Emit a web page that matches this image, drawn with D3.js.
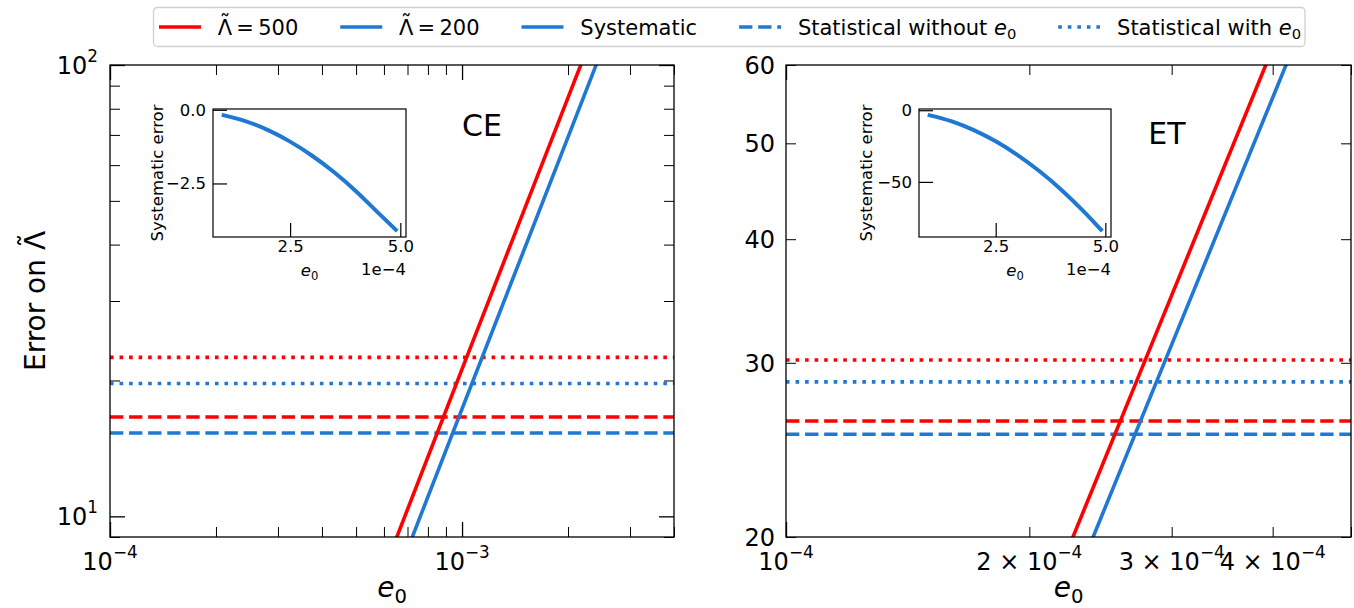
<!DOCTYPE html>
<html lang="en">
<head>
<meta charset="utf-8">
<title>Error on Lambda vs e0</title>
<script src="https://cdn.jsdelivr.net/npm/d3@7"></script>
<style>
  body { margin: 0; background: #fff; }
  svg text { font-family: "DejaVu Sans", sans-serif; fill: #000; }
</style>
</head>
<body>
<svg id="fig" width="1354" height="608"></svg>
<script>
  // values
  const lambdaValues = ["500", "200"];
  const lineColors = ["#ff0000", "#1f78d1"];

  // CE panel
  const ceSysE0 = [6e-4, 1e-3, 2e-3, 3e-3];
  const ceSys500 = [7.6, 21.2, 84.7, 190];
  const ceSys200 = [6.2, 17.3, 69.2, 156];
  const ceStatWithout = [16.6, 15.3];
  const ceStatWith = [22.5, 19.7];
  const ceXTicks = [1e-4, 1e-3];
  const ceXLabels = ["10^−4", "10^−3"];
  const ceXMinor = [2e-4, 3e-4, 4e-4, 5e-4, 6e-4, 7e-4, 8e-4, 9e-4, 2e-3, 3e-3, 4e-3];
  const ceYTicks = [10, 100];
  const ceYLabels = ["10^1", "10^2"];
  const ceYMinor = [9, 20, 30, 40, 50, 60, 70, 80, 90];

  // ET panel
  const etSysE0 = [2e-4, 3e-4, 4e-4, 5e-4];
  const etSys500 = [15.6, 35.1, 62.4, 97.5];
  const etSys200 = [13.9, 31.3, 55.6, 86.9];
  const etStatWithout = [26.2, 25.4];
  const etStatWith = [30.2, 28.7];
  const etXTicks = [1e-4];
  const etXLabels = ["10^−4"];
  const etXMinor = [2e-4, 3e-4, 4e-4, 5e-4];
  const etXMinorLabels = ["2 × 10^−4", "3 × 10^−4", "4 × 10^−4"];
  const etYMinor = [20, 30, 40, 50, 60];
  const etYLabels = ["20", "30", "40", "50", "60"];

  // insets: systematic error (Λ = 200) vs e0 in units of 1e-4
  const insetE0 = [0.95, 1.5, 2.0, 2.5, 3.0, 3.5, 4.0, 4.5, 4.93];
  const ceInsetSys = [-0.17, -0.39, -0.69, -1.08, -1.56, -2.12, -2.77, -3.50, -4.12];
  const etInsetSys = [-3.2, -7.8, -13.9, -21.7, -31.3, -42.6, -55.6, -70.4, -84.4];
  const insetXTicks = [2.5, 5.0];
  const ceInsetYTicks = [0, -2.5];
  const etInsetYTicks = [0, -50];

  const legendLabels = ["\u2009=\u2009" + lambdaValues[0], "\u2009=\u2009" + lambdaValues[1], "Systematic", "Statistical without ", "Statistical with "];

  const svg = d3.select("#fig");
  const LW = 3.6;
  const DASH = (3.7 * LW) + "," + (1.6 * LW);
  const DOT = LW + "," + (1.65 * LW);

  function supText(g, str, x, y, anchor, size) {
    const parts = str.split("^");
    const t = g.append("text")
      .attr("x", x).attr("y", y)
      .attr("text-anchor", anchor)
      .style("font-size", size + "px")
      .text(parts[0]);
    if (parts[1]) {
      t.append("tspan")
        .attr("dy", -0.5 * size)
        .style("font-size", (size * 0.7) + "px")
        .text(parts[1]);
    }
    return t;
  }

  // italic e with subscript 0
  function eZero(t, size) {
    t.append("tspan").style("font-style", "italic").text("e");
    t.append("tspan").attr("dy", 0.22 * size).style("font-size", (size * 0.7) + "px").text("0");
  }

  // Lambda with a tilde centred above it, then optional rest of the text
  function lambdaTilde(t, rest) {
    t.append("tspan").text("Λ");
    t.append("tspan").attr("dx", "-0.592em").attr("dy", "-0.2em").text("˜");
    if (rest) t.append("tspan").attr("dx", "0.092em").attr("dy", "0.2em").text(rest);
  }

  const panels = [
    { id: "ce", x0: 110, x1: 674, y0: 65, y1: 537, xDom: [1e-4, 4e-3], yDom: [9, 100],
      sysE0: ceSysE0, sys: [ceSys500, ceSys200], statWithout: ceStatWithout, statWith: ceStatWith,
      xTicks: ceXTicks, xLabels: ceXLabels, xMinor: ceXMinor, xMinorLabels: [],
      yTicks: ceYTicks, yLabels: ceYLabels, yMinor: ceYMinor, yMinorLabels: [],
      name: "CE", nameX: 482, nameY: 136,
      inset: { x0: 213, x1: 406, y0: 109, y1: 237, vals: ceInsetSys, yTicks: ceInsetYTicks, fmt: d3.format(".1f"), ylabX: 157 } },
    { id: "et", x0: 786, x1: 1351, y0: 65, y1: 537, xDom: [1e-4, 5e-4], yDom: [20, 60],
      sysE0: etSysE0, sys: [etSys500, etSys200], statWithout: etStatWithout, statWith: etStatWith,
      xTicks: etXTicks, xLabels: etXLabels, xMinor: etXMinor, xMinorLabels: etXMinorLabels,
      yTicks: [], yLabels: [], yMinor: etYMinor, yMinorLabels: etYLabels,
      name: "ET", nameX: 1167, nameY: 144,
      inset: { x0: 919, x1: 1111, y0: 109, y1: 237, vals: etInsetSys, yTicks: etInsetYTicks, fmt: d3.format("d"), ylabX: 866 } }
  ];

  function tickAxis(g, axis, vals, size, cls) {
    g.call(axis.tickValues(vals).tickSizeInner(-size).tickSizeOuter(0).tickFormat(""));
    g.select(".domain").remove();
    g.selectAll(".tick line").attr("stroke", "#000").attr("stroke-width", cls === "major" ? 1.3 : 1.0);
  }

  panels.forEach(function (p) {
    const x = d3.scaleLog().domain(p.xDom).range([p.x0, p.x1]);
    const y = d3.scaleLog().domain(p.yDom).range([p.y1, p.y0]);
    const g = svg.append("g").attr("id", p.id);

    g.append("clipPath").attr("id", "clip-" + p.id)
      .append("rect").attr("x", p.x0).attr("y", p.y0)
      .attr("width", p.x1 - p.x0).attr("height", p.y1 - p.y0);

    const plot = g.append("g").attr("clip-path", "url(#clip-" + p.id + ")");

    // statistical errors (horizontal)
    [0, 1].forEach(function (i) {
      plot.append("line")
        .attr("x1", x(p.xDom[0])).attr("x2", x(p.xDom[1]))
        .attr("y1", y(p.statWithout[i])).attr("y2", y(p.statWithout[i]))
        .attr("stroke", lineColors[i]).attr("stroke-width", LW)
        .attr("stroke-dasharray", DASH);
      plot.append("line")
        .attr("x1", x(p.xDom[0])).attr("x2", x(p.xDom[1]))
        .attr("y1", y(p.statWith[i])).attr("y2", y(p.statWith[i]))
        .attr("stroke", lineColors[i]).attr("stroke-width", LW)
        .attr("stroke-dasharray", DOT);
    });

    // systematic errors
    const line = d3.line().x(function (d) { return x(d[0]); }).y(function (d) { return y(d[1]); });
    [0, 1].forEach(function (i) {
      plot.append("path")
        .datum(d3.zip(p.sysE0, p.sys[i]))
        .attr("d", line)
        .attr("fill", "none")
        .attr("stroke", lineColors[i])
        .attr("stroke-width", LW);
    });

    // ticks, all four sides, pointing in
    tickAxis(g.append("g").attr("transform", "translate(0," + p.y1 + ")"), d3.axisBottom(x), p.xTicks, 15, "major");
    tickAxis(g.append("g").attr("transform", "translate(0," + p.y1 + ")"), d3.axisBottom(x), p.xMinor, 10, "minor");
    tickAxis(g.append("g").attr("transform", "translate(0," + p.y0 + ")"), d3.axisTop(x), p.xTicks, 15, "major");
    tickAxis(g.append("g").attr("transform", "translate(0," + p.y0 + ")"), d3.axisTop(x), p.xMinor, 10, "minor");
    tickAxis(g.append("g").attr("transform", "translate(" + p.x0 + ",0)"), d3.axisLeft(y), p.yTicks, 15, "major");
    tickAxis(g.append("g").attr("transform", "translate(" + p.x0 + ",0)"), d3.axisLeft(y), p.yMinor, 10, "minor");
    tickAxis(g.append("g").attr("transform", "translate(" + p.x1 + ",0)"), d3.axisRight(y), p.yTicks, 15, "major");
    tickAxis(g.append("g").attr("transform", "translate(" + p.x1 + ",0)"), d3.axisRight(y), p.yMinor, 10, "minor");

    g.append("rect")
      .attr("x", p.x0).attr("y", p.y0)
      .attr("width", p.x1 - p.x0).attr("height", p.y1 - p.y0)
      .attr("fill", "none").attr("stroke", "#000").attr("stroke-width", 1.3);

    // tick labels
    p.xTicks.forEach(function (v, i) { supText(g, p.xLabels[i], x(v), p.y1 + 33, "middle", 24); });
    p.xMinorLabels.forEach(function (s, i) { supText(g, s, x(p.xMinor[i]), p.y1 + 33, "middle", 24); });
    p.yTicks.forEach(function (v, i) { supText(g, p.yLabels[i], p.x0 - 12, y(v) + 9, "end", 24); });
    p.yMinorLabels.forEach(function (s, i) { supText(g, s, p.x0 - 11, y(p.yMinor[i]) + 9, "end", 24); });

    // axis label
    const xl = g.append("text")
      .attr("x", (p.x0 + p.x1) / 2).attr("y", 597)
      .attr("text-anchor", "middle")
      .style("font-size", "28px");
    eZero(xl, 28);

    g.append("text")
      .attr("x", p.nameX).attr("y", p.nameY)
      .attr("text-anchor", "middle")
      .style("font-size", "30px")
      .text(p.name);

    // inset
    const q = p.inset;
    const xe = d3.extent(insetE0), ye = d3.extent(q.vals);
    const xm = (xe[1] - xe[0]) * 0.05, ym = (ye[1] - ye[0]) * 0.05;
    const ix = d3.scaleLinear().domain([xe[0] - xm, xe[1] + xm]).range([q.x0, q.x1]);
    const iy = d3.scaleLinear().domain([ye[0] - ym, ye[1] + ym]).range([q.y1, q.y0]);
    const ig = g.append("g");
    ig.append("rect")
      .attr("x", q.x0).attr("y", q.y0)
      .attr("width", q.x1 - q.x0).attr("height", q.y1 - q.y0)
      .attr("fill", "#fff");

    ig.append("path")
      .datum(d3.zip(insetE0, q.vals))
      .attr("d", d3.line().curve(d3.curveMonotoneX)
        .x(function (d) { return ix(d[0]); }).y(function (d) { return iy(d[1]); }))
      .attr("fill", "none").attr("stroke", lineColors[1]).attr("stroke-width", 4);

    const ixa = ig.append("g").attr("transform", "translate(0," + q.y1 + ")")
      .call(d3.axisBottom(ix).tickValues(insetXTicks).tickSizeInner(-14).tickSizeOuter(0)
        .tickPadding(3.5).tickFormat(d3.format(".1f")));
    const iya = ig.append("g").attr("transform", "translate(" + q.x0 + ",0)")
      .call(d3.axisLeft(iy).tickValues(q.yTicks).tickSizeInner(-14).tickSizeOuter(0)
        .tickPadding(7).tickFormat(q.fmt));
    [ixa, iya].forEach(function (a) {
      a.select(".domain").remove();
      a.selectAll(".tick line").attr("stroke", "#000").attr("stroke-width", 1.2);
      a.selectAll(".tick text").style("font-size", "16.5px");
    });

    ig.append("rect")
      .attr("x", q.x0).attr("y", q.y0)
      .attr("width", q.x1 - q.x0).attr("height", q.y1 - q.y0)
      .attr("fill", "none").attr("stroke", "#000").attr("stroke-width", 1.2);

    ig.append("text")
      .attr("x", q.x1).attr("y", q.y1 + 38)
      .attr("text-anchor", "end")
      .style("font-size", "16.5px")
      .text("1e−4");
    const il = ig.append("text")
      .attr("x", (q.x0 + q.x1) / 2).attr("y", q.y1 + 39)
      .attr("text-anchor", "middle")
      .style("font-size", "16.5px");
    eZero(il, 16.5);
    ig.append("text")
      .attr("transform", "translate(" + q.ylabX + "," + ((q.y0 + q.y1) / 2) + ") rotate(-90)")
      .attr("text-anchor", "middle")
      .attr("dy", "0.35em")
      .style("font-size", "16.5px")
      .text("Systematic error");
  });

  // shared y label
  const yl = svg.append("text")
    .attr("transform", "translate(35,301) rotate(-90)")
    .attr("text-anchor", "middle")
    .attr("dy", "0.35em")
    .style("font-size", "28px");
  yl.append("tspan").text("Error on ");
  lambdaTilde(yl);

  // legend, laid out like matplotlib (handle 2em, pad 0.8em, column spacing 2em)
  const FS = 21;
  const legendColors = [lineColors[0], lineColors[1], lineColors[1], lineColors[1], lineColors[1]];
  const legendDash = [null, null, null, DASH, DOT];
  const leg = svg.append("g");
  const frame = leg.append("rect");
  let lx = 159;
  let lend = lx;
  const ly = 27;
  legendLabels.forEach(function (s, i) {
    leg.append("line")
      .attr("x1", lx).attr("x2", lx + 2 * FS)
      .attr("y1", ly).attr("y2", ly)
      .attr("stroke", legendColors[i]).attr("stroke-width", LW)
      .attr("stroke-dasharray", legendDash[i]);
    const t = leg.append("text")
      .attr("x", lx + 2.8 * FS).attr("y", ly + 7.5)
      .style("font-size", FS + "px");
    if (i < 2) lambdaTilde(t, s);
    else t.append("tspan").text(s);
    if (i >= 3) eZero(t, FS);
    const bb = t.node().getBBox();
    lend = bb.x + bb.width;
    lx = lend + 2 * FS;
  });
  frame.attr("x", 153.5).attr("y", 7.5)
    .attr("width", lend + 4 - 153.5).attr("height", 39)
    .attr("rx", 4)
    .attr("fill", "#fff").attr("stroke", "#d0d0d0").attr("stroke-width", 1.3);
</script>
</body>
</html>
